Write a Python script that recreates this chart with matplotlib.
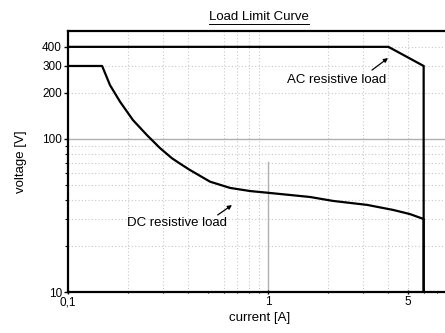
import matplotlib
matplotlib.use("Agg")
import matplotlib.pyplot as plt
from matplotlib.ticker import FixedLocator, NullFormatter

plt.rcParams['font.family'] = ['Liberation Sans', 'DejaVu Sans']

# Data
ac_current = [0.1, 4.0, 6.0, 6.0]
ac_voltage = [400, 400, 300, 10]

dc_current = [0.1, 0.148, 0.162, 0.182, 0.211, 0.248, 0.288, 0.33, 0.363, 0.407,
              0.513, 0.646, 0.813, 1.02, 1.62, 2.11, 3.13, 4.22, 5.13, 6.0, 6.0]
dc_voltage = [300, 300, 225, 175, 133, 106, 87.3, 75.0, 69.0, 62.7,
              52.6, 47.9, 45.7, 44.4, 41.8, 39.4, 37.1, 34.4, 32.3, 30, 10]

x_ticks = [0.1, 1, 5]
x_tick_labels = ["0,1", "1", "5"]
y_ticks = [10, 100, 200, 300, 400]
y_tick_labels = ["10", "100", "200", "300", "400"]
x_grid = [0.2, 0.3, 0.4, 0.6, 0.7, 0.8, 0.9, 2, 3, 4, 5]
y_grid = [20, 30, 40, 50, 60, 70, 80, 90, 200, 300, 400]

FS = 9.5

fig = plt.figure(figsize=(4.45, 3.33), dpi=100)
ax = fig.add_axes([0.153, 0.123, 0.86, 0.784])
ax.set_xscale('log')
ax.set_yscale('log')
ax.set_xlim(0.1, 8.2)
ax.set_ylim(10, 508)

for xv in x_grid:
    ax.axvline(xv, color='#c8c8c8', lw=0.8, ls=(0, (1, 2)), zorder=0)
for yv in y_grid:
    ax.axhline(yv, color='#c8c8c8', lw=0.8, ls=(0, (1, 2)), zorder=0)
ax.axhline(100, color='#b0b0b0', lw=1.0, zorder=0)
ax.plot([1, 1], [10, 70.7], color='#b0b0b0', lw=1.0, zorder=0)

ax.plot(ac_current, ac_voltage, color='black', lw=1.6, solid_joinstyle='miter')
ax.plot(dc_current, dc_voltage, color='black', lw=1.6, solid_joinstyle='round')

ax.xaxis.set_major_locator(FixedLocator(x_ticks))
ax.set_xticklabels(x_tick_labels)
ax.xaxis.set_minor_locator(FixedLocator([0.2, 0.3, 0.4, 0.5, 0.6, 0.7, 0.8, 0.9, 2, 3, 4, 6, 7, 8]))
ax.xaxis.set_minor_formatter(NullFormatter())
ax.yaxis.set_major_locator(FixedLocator(y_ticks))
ax.set_yticklabels(y_tick_labels)
ax.yaxis.set_minor_locator(FixedLocator([20, 30, 40, 50, 60, 70, 80, 90]))
ax.yaxis.set_minor_formatter(NullFormatter())
ax.tick_params(which='major', length=3, width=1, labelsize=FS - 1, pad=1.5)
ax.tick_params(which='minor', length=2, width=0.8)
ax.tick_params(axis='x', which='both', direction='inout')

for s in ax.spines.values():
    s.set_linewidth(1.6)

ax.set_xlabel('current [A]', fontsize=FS, labelpad=3)
ax.set_ylabel('voltage [V]', fontsize=FS, labelpad=11)
t = ax.set_title('Load Limit Curve', fontsize=FS, pad=8)

ax.text(2.19, 243, 'AC resistive load', fontsize=FS, ha='center', va='center')
ax.annotate('', xy=(3.98, 338), xytext=(3.31, 282),
            arrowprops=dict(arrowstyle='-|>', color='black', lw=0.9,
                            mutation_scale=6, shrinkA=0, shrinkB=0))
ax.text(0.35, 28.3, 'DC resistive load', fontsize=FS, ha='center', va='center')
ax.annotate('', xy=(0.66, 37), xytext=(0.56, 31.9),
            arrowprops=dict(arrowstyle='-|>', color='black', lw=0.9,
                            mutation_scale=6, shrinkA=0, shrinkB=0))

fig.canvas.draw()
bb = t.get_window_extent()
inv = fig.transFigure.inverted()
(x0, y0), (x1, y1) = inv.transform([[bb.x0, bb.y0], [bb.x1, bb.y1]])
fig.add_artist(plt.Line2D([x0, x1], [y0 - 0.002, y0 - 0.002], color='black', lw=0.7,
                          transform=fig.transFigure))

fig.savefig('out.png', dpi=100)
